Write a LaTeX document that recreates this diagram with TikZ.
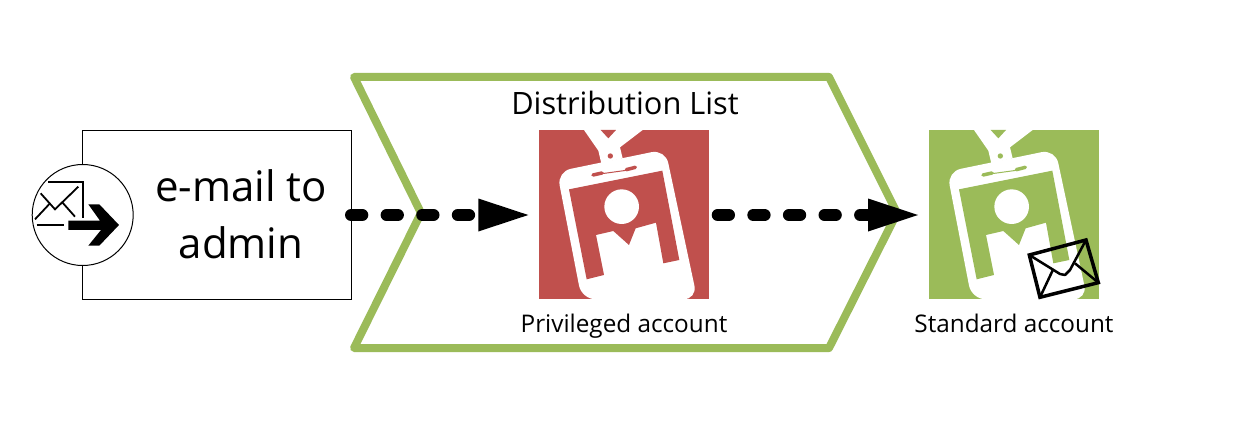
\documentclass[tikz,border=0pt]{standalone}
\usepackage{fontspec}
\setmainfont{Open Sans}
\usetikzlibrary{arrows.meta}
\definecolor{cgreen}{HTML}{9BBB59}
\definecolor{cred}{HTML}{C0504D}
\tikzset{
  chevronline/.style={draw=cgreen,line width=8pt,line join=round},
  boxline/.style={draw=black,line width=1pt,fill=white},
  cardnode/.style={minimum width=170pt,minimum height=169pt,inner sep=0pt,outer sep=0pt,draw=none},
  flow/.style={line width=12pt,line cap=round,dash pattern=on 11.3pt off 24.3pt,
     -{Triangle[length=50pt,width=33pt,line width=0pt,round=false]}},
  lab/.style={inner sep=0pt,align=center,font=\fontsize{24.3}{28}\selectfont},
  bigl/.style={inner sep=0pt,align=center,font=\fontsize{42}{57}\selectfont},
}
\newcommand{\badgeart}[3]{%
  \begin{scope}[shift={(#2,#3)},x=0.3333pt,y=-0.3333pt]
    \fill[#1] (58,30) rectangle (568,538);
    \fill[white] (192,30) -- (368,30) -- (300,82) -- (308,115) -- (244,130) -- (235,92) -- cycle;
    \fill[#1] (242,30) -- (288,30) -- (265,55) -- cycle;
    \fill[#1] (271,108) circle (8);
    \fill[white,rounded corners=14] (111,155) -- (436,88) -- (532,538) -- (185,538) -- cycle;
    \fill[#1] (147,208) -- (427,152) -- (478,420) -- (430,430) -- (408,308) -- (347,325) -- (327,375) -- (280,333) -- (228,345) -- (252,465) -- (200,478) -- cycle;
    \fill[white] (305,260) circle (52);
    \draw[#1,line width=3.5pt,line cap=round] (219,165) -- (246,159) (319,149) -- (346,142);
    \draw[#1,line width=1pt] (246,161) -- (319,151);
  \end{scope}}
\begin{document}
\begin{tikzpicture}[x=1pt,y=-1pt]
  \useasboundingbox (0,0) rectangle (1233,433);
  \fill[white] (0,0) rectangle (1233,433);
  % chevron
  \draw[chevronline] (354,77) -- (829,77) -- (897,213) -- (829,348) -- (354,348) -- (421,213) -- cycle;
  % process box
  \node[boxline,minimum width=269pt,minimum height=169pt,inner sep=0pt,outer sep=0pt] (mailbox) at (216.5,214.5) {};
  \node[bigl] (mailtext) at (241,214) {e-mail to\\admin};
  % event circle
  \node[circle,boxline,minimum size=101pt,inner sep=0pt,outer sep=0pt] (event) at (82.7,215) {};
  \begin{scope}[shift={(20,150)},x=0.3333pt,y=-0.3333pt]
    \draw[black,line width=1.8pt] (85,95) -- (190,95) -- (190,205);
    \draw[black,line width=1.8pt] (62,130) -- (105,178) -- (175,110);
    \draw[black,line width=1.8pt] (45,208) -- (90,160);
    \draw[black,line width=1.8pt] (165,200) -- (125,155);
    \draw[black,line width=1.8pt] (50,226) -- (133,226);
    \fill[black] (145,212) -- (240,212) -- (205,163) -- (238,163) -- (297,225) -- (238,287) -- (205,287) -- (243,240) -- (145,240) -- cycle;
  \end{scope}
  % cards
  \badgeart{cred}{520}{120}
  \badgeart{cgreen}{910}{120}
  \node[cardnode] (redcard) at (624,214.5) {};
  \node[cardnode] (greencard) at (1014,214.5) {};
  % envelope on green card
  \begin{scope}[shift={(910,120)},x=0.3333pt,y=-0.3333pt]
    \draw[black,line width=3.5pt,line join=miter] (358,405) -- (528,360) -- (565,488) -- (390,532) -- cycle;
    \draw[black,line width=2.5pt,line join=round] (358,405) -- (450,462) -- (465,465) -- (480,450) -- (528,360);
    \draw[black,line width=2.5pt] (390,532) -- (430,447);
    \draw[black,line width=2.5pt] (565,488) -- (495,430);
  \end{scope}
  % labels
  \node[lab,font=\fontsize{30.8}{36}\selectfont] (title) at (625,103) {Distribution List};
  \node[lab] (privlabel) at (624,326) {Privileged account};
  \node[lab] (stdlabel) at (1014,323) {Standard account};
  % flows
  \draw[flow] ([xshift=0pt,yshift=-0.5pt]mailbox.east) -- ([xshift=-10.7pt,yshift=-0.5pt]redcard.west);
  \draw[flow] ([xshift=8.7pt,yshift=-0.5pt]redcard.east) -- ([xshift=-11pt,yshift=-0.5pt]greencard.west);
\end{tikzpicture}
\end{document}
